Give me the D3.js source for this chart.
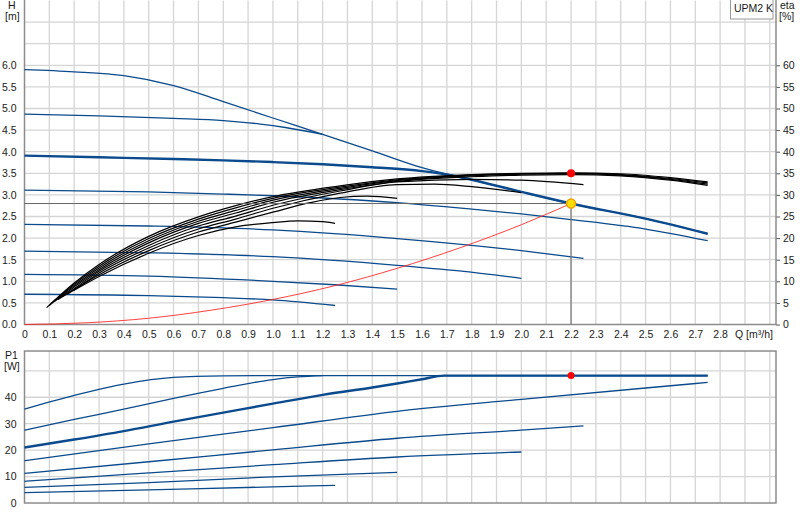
<!DOCTYPE html>
<html>
<head>
<meta charset="utf-8">
<script src="https://cdn.jsdelivr.net/npm/d3@7"></script>
<style>
body { margin: 0; background: #fff; }
svg text { font-family: "Liberation Sans", Arial, sans-serif; font-size: 10.5px; fill: #1a1a1a; }
</style>
</head>
<body>
<div id="pumpChart"></div>
<script>
// tick labels
const qTicks = [0,0.1,0.2,0.3,0.4,0.5,0.6,0.7,0.8,0.9,1.0,1.1,1.2,1.3,1.4,1.5,1.6,1.7,1.8,1.9,2.0,2.1,2.2,2.3,2.4,2.5,2.6,2.7,2.8];
const qGrid = [0.1,0.2,0.3,0.4,0.5,0.6,0.7,0.8,0.9,1.0,1.1,1.2,1.3,1.4,1.5,1.6,1.7,1.8,1.9,2.0,2.1,2.2,2.3,2.4,2.5,2.6,2.7,2.8,2.9,3.0];
const hTicks = [0,0.5,1.0,1.5,2.0,2.5,3.0,3.5,4.0,4.5,5.0,5.5,6.0];
const hGrid = [0.5,1.0,1.5,2.0,2.5,3.0,3.5,4.0,4.5,5.0,5.5,6.0,6.5,7.0];
const etaTicks = [0,5,10,15,20,25,30,35,40,45,50,55,60];
const pTicks = [0,10,20,30,40];
const pGrid = [10,20,30,40,50];

// head curves, [Q m3/h, H m]
const head1 = [[0,5.9],[0.2,5.85],[0.4,5.76],[0.6,5.53],[0.8,5.16],[1.0,4.78],[1.2,4.40],[1.4,4.02],[1.6,3.63],[1.8,3.35],[2.0,3.07],[2.2,2.8],[2.5,2.45],[2.75,2.1]];
const head2 = [[0,4.87],[0.3,4.83],[0.6,4.77],[0.8,4.72],[0.95,4.64],[1.05,4.56],[1.2,4.40]];
const head3 = [[0,3.91],[0.3,3.87],[0.6,3.83],[0.8,3.8],[1.0,3.76],[1.2,3.71],[1.4,3.64],[1.6,3.55],[1.72,3.45],[1.8,3.35],[2.0,3.07],[2.2,2.8],[2.5,2.45],[2.75,2.1]];
const head4 = [[0,3.11],[0.5,3.07],[0.8,3.02],[1.0,2.98],[1.5,2.82],[1.8,2.67],[2.0,2.56],[2.2,2.43],[2.5,2.21],[2.75,1.94]];
const head5 = [[0,2.32],[0.5,2.28],[1.0,2.19],[1.5,1.99],[2.0,1.71],[2.25,1.53]];
const head6 = [[0,1.70],[0.5,1.66],[1.0,1.57],[1.5,1.37],[1.75,1.24],[2.0,1.07]];
const head7 = [[0,1.16],[0.5,1.12],[1.0,1.0],[1.25,0.92],[1.5,0.82]];
const head8 = [[0,0.70],[0.5,0.67],[0.8,0.62],[1.0,0.57],[1.25,0.44]];

// efficiency curves, [Q m3/h, eta %]
const eta1 = [[0.196,7.8],[0.3,11.1],[0.5,16.5],[0.7,20.6],[0.85,22.6],[1.0,23.6],[1.1,24.0],[1.2,23.8],[1.25,23.4]];
const eta2 = [[0.17,7.0],[0.3,11.5],[0.5,17.1],[0.7,21.4],[0.85,23.7],[1.0,26.0],[1.15,28.2],[1.27,29.4],[1.38,29.7],[1.5,29.2]];
const eta3 = [[0.15,6.4],[0.2,8.0],[0.3,11.9],[0.5,17.7],[0.7,22.1],[0.85,24.4],[1.0,26.9],[1.27,30.4],[1.5,32.4],[1.65,32.5],[1.8,31.9],[2.0,30.5]];
const eta4 = [[0.135,5.8],[0.2,8.3],[0.3,12.3],[0.5,18.3],[0.7,22.8],[0.85,25.1],[1.0,27.6],[1.27,30.9],[1.5,33.0],[1.8,33.6],[2.0,33.4],[2.25,32.4]];
const eta5 = [[0.12,5.3],[0.2,8.7],[0.3,12.7],[0.5,18.9],[0.7,23.4],[0.85,25.8],[1.0,28.3],[1.27,31.2],[1.5,33.1],[1.8,34.2],[2.0,34.6],[2.2,34.7],[2.4,34.4],[2.6,33.4],[2.75,32.2]];
const eta6 = [[0.11,5.0],[0.2,9.0],[0.3,13.1],[0.5,19.4],[0.7,23.9],[0.85,26.4],[1.0,28.8],[1.27,31.5],[1.5,33.3],[1.8,34.4],[2.0,34.8],[2.2,34.9],[2.4,34.6],[2.6,33.6],[2.75,32.5]];
const eta7 = [[0.1,4.4],[0.2,9.3],[0.3,13.5],[0.5,19.9],[0.7,24.4],[0.85,27.0],[1.0,29.2],[1.27,31.8],[1.5,33.5],[1.8,34.6],[2.0,34.9],[2.2,35.0],[2.4,34.7],[2.6,33.8],[2.75,32.8]];
const eta8 = [[0.089,3.9],[0.2,9.6],[0.3,13.9],[0.5,20.4],[0.7,24.9],[0.85,27.5],[1.0,29.6],[1.27,32.1],[1.5,33.7],[1.8,34.7],[2.0,35.0],[2.2,35.1],[2.4,34.9],[2.6,34.0],[2.75,33.0]];

// system curve, [Q, H]
const systemCurve = [[0,0],[0.25,0.04],[0.5,0.145],[0.75,0.33],[1.0,0.58],[1.25,0.9],[1.5,1.3],[1.75,1.77],[2.0,2.31],[2.2,2.8]];

// power curves, [Q m3/h, P1 W]
const power1 = [[0,35.5],[0.2,40.7],[0.4,45.0],[0.6,47.5],[0.8,48.1],[1.0,48.2],[1.5,48.2],[2.0,48.2],[2.5,48.2],[2.75,48.2]];
const power2 = [[0,27.5],[0.2,31.6],[0.4,35.5],[0.6,39.6],[0.8,43.4],[1.0,46.7],[1.1,47.7],[1.2,48.2]];
const power3 = [[0,21.0],[0.2,24.0],[0.4,27.2],[0.6,30.8],[0.8,34.2],[1.0,37.6],[1.2,40.9],[1.4,43.7],[1.5,45.2],[1.6,46.8],[1.69,48.2],[2.0,48.2],[2.5,48.2],[2.75,48.2]];
const power4 = [[0,16.0],[0.5,22.4],[1.0,28.5],[1.5,34.7],[2.0,39.2],[2.5,43.5],[2.75,45.6]];
const power5 = [[0,11.2],[0.5,15.6],[1.0,20.1],[1.5,24.5],[2.0,27.6],[2.25,29.2]];
const power6 = [[0,8.2],[0.5,11.4],[1.0,14.5],[1.5,17.4],[2.0,19.3]];
const power7 = [[0,5.9],[0.5,7.7],[1.0,9.9],[1.5,11.6]];
const power8 = [[0,3.9],[0.5,5.0],[1.0,6.1],[1.25,6.7]];

// duty point
const dutyQ = 2.2, dutyH = 2.8, dutyEta = 35.0, dutyP = 48.2;

const width = 800, height = 520;
const blue = "#0b4a8c";
const gridColor = "#d5d5d5";
const axisColor = "#8c8c8c";

const svg = d3.select("#pumpChart").append("svg")
    .attr("width", width)
    .attr("height", height);

const x = d3.scaleLinear().domain([0, 3.025]).range([24.5, 776]);
const yH = d3.scaleLinear().domain([0, 7.5]).range([324.5, 0.5]);
const yEta = d3.scaleLinear().domain([0, 75]).range([324.5, 0.5]);
const yP = d3.scaleLinear().domain([0, 57.5]).range([503, 351]);

//grid
const grid = svg.append("g").attr("stroke", gridColor).attr("stroke-width", 1.3);
grid.selectAll(".vt").data(qGrid).enter().append("line")
    .attr("x1", d => x(d)).attr("x2", d => x(d))
    .attr("y1", yH(7.5)).attr("y2", yH(0));
grid.selectAll(".ht").data(hGrid).enter().append("line")
    .attr("x1", x(0)).attr("x2", x(3.025))
    .attr("y1", d => yH(d)).attr("y2", d => yH(d));
grid.selectAll(".vb").data(qGrid).enter().append("line")
    .attr("x1", d => x(d)).attr("x2", d => x(d))
    .attr("y1", yP(57.5)).attr("y2", yP(0));
grid.selectAll(".hb").data(pGrid).enter().append("line")
    .attr("x1", x(0)).attr("x2", x(3.025))
    .attr("y1", d => yP(d)).attr("y2", d => yP(d));

//axes
const fmtQ = d => d === 0 ? "0" : d3.format(".1f")(d);
svg.append("g").attr("transform", `translate(0,${yH(0)})`)
    .call(d3.axisBottom(x).tickValues(qTicks).tickFormat(fmtQ).tickSize(0).tickPadding(6))
    .call(g => g.select(".domain").remove());
svg.append("g").attr("transform", `translate(${x(0)},0)`)
    .call(d3.axisLeft(yH).tickValues(hTicks).tickFormat(d3.format(".1f")).tickSize(0).tickPadding(8))
    .call(g => g.select(".domain").remove());
svg.append("g").attr("transform", `translate(${x(3.025)},0)`)
    .call(d3.axisRight(yEta).tickValues(etaTicks).tickSize(4).tickPadding(3))
    .call(g => g.select(".domain").remove())
    .call(g => g.selectAll(".tick line").attr("stroke", "#555"));
svg.append("g").attr("transform", `translate(${x(0)},0)`)
    .call(d3.axisLeft(yP).tickValues(pTicks).tickSize(0).tickPadding(8))
    .call(g => g.select(".domain").remove());
svg.selectAll(".tick text").attr("font-size", "10.5px").attr("fill", "#1a1a1a");

//frames
const frame = svg.append("g").attr("stroke", axisColor).attr("stroke-width", 1.5).attr("fill", "none");
frame.append("path")
    .attr("d", `M${x(0)},0 V${yH(0)} H${x(3.025)} V0`);
frame.append("rect")
    .attr("x", x(0)).attr("y", yP(57.5))
    .attr("width", x(3.025) - x(0)).attr("height", yP(0) - yP(57.5));

//axis titles
svg.append("text").attr("x", 8).attr("y", 8.5).text("H");
svg.append("text").attr("x", 5).attr("y", 19.5).text("[m]");
svg.append("text").attr("x", 780).attr("y", 8.5).text("eta");
svg.append("text").attr("x", 779).attr("y", 19.5).text("[%]");
svg.append("text").attr("x", 5).attr("y", 359).text("P1");
svg.append("text").attr("x", 4).attr("y", 370).text("[W]");
svg.append("text").attr("x", 735).attr("y", 337.5).text("Q [m³/h]");

// legend box
svg.append("rect").attr("x", 730.5).attr("y", -1).attr("width", 42.5).attr("height", 20)
    .attr("fill", "#fff").attr("stroke", "#999").attr("stroke-width", 1);
svg.append("text").attr("x", 734).attr("y", 11.5).text("UPM2 K");

//lines
const headLine = d3.line().x(d => x(d[0])).y(d => yH(d[1])).curve(d3.curveMonotoneX);
const etaLine = d3.line().x(d => x(d[0])).y(d => yEta(d[1])).curve(d3.curveMonotoneX);
const powerLine = d3.line().x(d => x(d[0])).y(d => yP(d[1])).curve(d3.curveMonotoneX);

const headCurves = [head1, head2, head4, head5, head6, head7, head8];
svg.append("g").selectAll("path").data(headCurves).enter().append("path")
    .attr("d", headLine).attr("fill", "none").attr("stroke", blue).attr("stroke-width", 1.3);
svg.append("path").datum(head3).attr("d", headLine)
    .attr("fill", "none").attr("stroke", blue).attr("stroke-width", 2.4);

const powerCurves = [power1, power2, power4, power5, power6, power7, power8];
svg.append("g").selectAll("path").data(powerCurves).enter().append("path")
    .attr("d", powerLine).attr("fill", "none").attr("stroke", blue).attr("stroke-width", 1.3);
svg.append("path").datum(power3).attr("d", powerLine)
    .attr("fill", "none").attr("stroke", blue).attr("stroke-width", 2.4);

const etaCurves = [eta1, eta2, eta3, eta4, eta5, eta6, eta7, eta8];
svg.append("g").selectAll("path").data(etaCurves).enter().append("path")
    .attr("d", etaLine).attr("fill", "none").attr("stroke", "#000").attr("stroke-width", 1.2);

//duty point guides
svg.append("line").attr("x1", x(0)).attr("x2", x(dutyQ))
    .attr("y1", yH(dutyH)).attr("y2", yH(dutyH))
    .attr("stroke", "#666").attr("stroke-width", 1);
svg.append("line").attr("x1", x(dutyQ)).attr("x2", x(dutyQ))
    .attr("y1", yH(dutyH)).attr("y2", yH(0))
    .attr("stroke", "#777").attr("stroke-width", 1.2);

svg.append("path").datum(systemCurve).attr("d", headLine)
    .attr("fill", "none").attr("stroke", "#ff2020").attr("stroke-width", 1).attr("opacity", 0.85);

svg.append("circle").attr("cx", x(dutyQ)).attr("cy", yEta(dutyEta)).attr("r", 4).attr("fill", "#ff0000");
svg.append("circle").attr("cx", x(dutyQ)).attr("cy", yP(dutyP)).attr("r", 3.5).attr("fill", "#ff0000");
svg.append("circle").attr("cx", x(dutyQ)).attr("cy", yH(dutyH)).attr("r", 4.5)
    .attr("fill", "#ffdd00").attr("stroke", "#f0a000").attr("stroke-width", 1.5);
</script>
</body>
</html>
